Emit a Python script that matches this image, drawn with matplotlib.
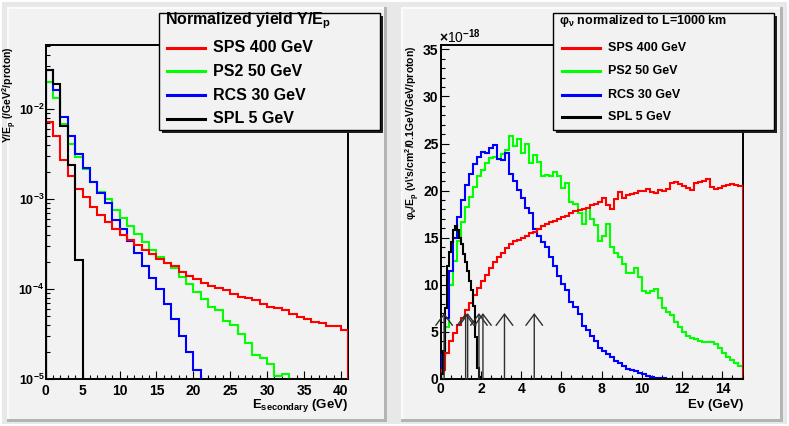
import numpy as np
import matplotlib
matplotlib.use("Agg")
import matplotlib.pyplot as plt
from matplotlib.patches import Rectangle
from matplotlib.lines import Line2D
from matplotlib.ticker import MultipleLocator, LogLocator, NullFormatter

plt.rcParams['font.family'] = ['Liberation Sans', 'DejaVu Sans']
plt.rcParams['font.weight'] = 'bold'
plt.rcParams['mathtext.fontset'] = 'custom'
plt.rcParams['mathtext.rm'] = 'Liberation Sans:bold'
plt.rcParams['mathtext.it'] = 'Liberation Sans:bold'
plt.rcParams['mathtext.bf'] = 'Liberation Sans:bold'
plt.rcParams['mathtext.sf'] = 'Liberation Sans:bold'
plt.rcParams['mathtext.default'] = 'rm'

# ---------------- data: left panel (1 GeV bins) ----------------
yield_edges_sps = np.arange(0, 42, 1.0)
yield_sps = [7.2e-3, 5.0e-3, 2.7e-3, 1.8e-3, 1.3e-3, 1.05e-3, 8.2e-4, 6.6e-4, 5.5e-4, 4.6e-4,
             4.0e-4, 3.5e-4, 3.05e-4, 2.7e-4, 2.44e-4, 2.15e-4, 1.94e-4, 1.78e-4, 1.56e-4, 1.39e-4,
             1.28e-4, 1.17e-4, 1.08e-4, 1.02e-4, 9.8e-5, 8.7e-5, 8.2e-5, 7.9e-5, 7.5e-5, 6.8e-5,
             6.3e-5, 6.1e-5, 5.9e-5, 5.3e-5, 4.9e-5, 4.6e-5, 4.3e-5, 4.2e-5, 3.9e-5, 3.9e-5, 3.5e-5]
yield_edges_ps2 = np.arange(0, 34, 1.0)
yield_ps2 = [0.020, 0.0131, 6.8e-3, 4.1e-3, 2.96e-3, 2.15e-3, 1.55e-3, 1.2e-3, 1.0e-3, 7.6e-4,
             6.2e-4, 5.0e-4, 4.1e-4, 3.3e-4, 2.7e-4, 2.25e-4, 1.94e-4, 1.7e-4, 1.37e-4, 1.15e-4,
             9.3e-5, 7.7e-5, 6.3e-5, 5.9e-5, 4.4e-5, 4.0e-5, 3.2e-5, 2.5e-5, 1.85e-5, 1.7e-5,
             1.47e-5, 1.07e-5, 1.14e-5]
yield_edges_rcs = np.arange(0, 22, 1.0)
yield_rcs = [0.027, 0.0162, 8.1e-3, 5.0e-3, 3.2e-3, 2.2e-3, 1.55e-3, 1.18e-3, 9.0e-4, 5.9e-4,
             4.6e-4, 3.4e-4, 2.5e-4, 1.78e-4, 1.31e-4, 1.0e-4, 6.8e-5, 4.6e-5, 3.0e-5, 2.0e-5, 1.26e-5]
yield_edges_spl = np.arange(0, 6, 1.0)
yield_spl = [0.027, 0.019, 6.5e-3, 2.4e-3, 2.1e-4]

# ---------------- data: right panel (flux, x 1e-18) ----------------
flux_edges = np.round(np.arange(0, 15.01, 0.2), 2)
flux_sps = [1.0, 2.8, 4.0, 4.9, 5.7, 6.5, 7.3, 8.1, 8.9, 9.7,
            10.4, 11.0, 11.8, 12.4, 12.9, 13.4, 13.9, 14.3, 14.6, 14.8,
            15.0, 15.2, 15.5, 15.6, 15.9, 16.2, 16.5, 16.7, 16.8, 17.0,
            17.2, 17.3, 17.6, 17.8, 17.9, 18.1, 18.2, 18.5, 18.6, 18.8,
            19.2, 18.5, 18.1, 19.1, 19.9, 19.2, 19.5, 19.6, 19.8, 20.0,
            20.0, 20.2, 19.9, 19.8, 20.1, 20.0, 20.2, 20.8, 20.9, 20.7,
            20.5, 20.3, 20.1, 20.8, 20.9, 21.0, 21.2, 20.4, 20.2, 20.3,
            20.5, 20.6, 20.7, 20.6, 20.5]
flux_ps2 = [1.5, 5.5, 10.0, 12.5, 14.6, 16.7, 18.3, 19.3, 20.4, 21.5,
            22.2, 22.9, 23.5, 23.6, 23.4, 23.9, 24.3, 25.8, 24.7, 25.5,
            24.0, 25.0, 22.9, 23.8, 23.0, 21.6, 21.7, 21.6, 22.0, 21.6,
            20.3, 20.8, 18.8, 18.6, 17.6, 16.5, 18.2, 17.0, 16.4, 14.6,
            15.2, 16.5, 14.0, 13.4, 13.0, 12.2, 11.3, 11.3, 11.8, 10.8,
            9.3, 9.1, 9.3, 9.6, 8.6, 7.5, 7.1, 6.8, 6.1, 5.5,
            5.0, 4.6, 4.3, 4.2, 4.0, 3.9, 3.9, 3.9, 3.7, 3.3,
            2.8, 2.3, 2.0, 1.7, 1.4]
flux_rcs = [2.5, 6.5, 11.5, 15.0, 17.2, 19.0, 20.6, 21.8, 22.8, 23.6,
            24.1, 24.0, 24.5, 24.8, 23.4, 23.3, 24.0, 21.8, 21.0, 20.1,
            19.2, 18.2, 17.6, 15.9, 15.2, 14.5, 14.0, 13.0, 12.0, 10.9,
            10.1, 9.4, 8.2, 7.6, 6.9, 5.6, 5.2, 4.6, 4.0, 3.3,
            3.0, 2.7, 2.3, 1.9, 1.7, 1.4, 1.1, 0.95, 0.8, 0.6,
            0.5, 0.35, 0.25, 0.15, 0.1, 0.07, 0.05, 0.04, 0.03, 0.03,
            0.02, 0.02, 0.02, 0.01, 0.01, 0.01, 0.01, 0.01, 0.01, 0.01,
            0.01, 0.01, 0.01, 0.01, 0.01]
flux_edges_spl = np.round(np.arange(0, 15.01, 0.1), 2)
flux_spl_peak = [0.5, 3.0, 7.5, 12.0, 13.5, 14.5, 15.8, 16.2, 15.8, 15.0,
                 14.3, 13.3, 12.4, 11.5, 10.4, 9.5, 7.8, 4.5, 1.2, 0.2]
flux_spl = np.concatenate([flux_spl_peak, np.zeros(len(flux_edges_spl) - 1 - len(flux_spl_peak))])

arrow_energies = [0.17, 1.24, 1.34, 1.9, 2.1, 3.17, 4.65]
arrow_height = 7.0

labels = ['SPS 400 GeV', 'PS2 50 GeV', 'RCS 30 GeV', 'SPL 5 GeV']
colors = ['#ff0000', '#00ff00', '#0000ff', '#000000']

# ---------------- figure ----------------
W, H = 789, 426
fig = plt.figure(figsize=(W / 100, H / 100), dpi=100, facecolor='white')

def fx(x):
    return x / W

def fy(y):
    return 1 - y / H

def rect(x0, y0, x1, y1, z, **kw):
    fig.add_artist(Rectangle((fx(x0), fy(y1)), (x1 - x0) / W, (y1 - y0) / H,
                             transform=fig.transFigure, zorder=z, **kw))

# canvas and pads
rect(2, 2, 787, 424, -5, facecolor='#e8e8e8', edgecolor='none')
for (x0, x1) in [(7, 387), (401, 783)]:
    rect(x0, 7, x1, 422, -4, facecolor='#b4b4b4', edgecolor='none')
    rect(x0, 7, x1 - 3, 419, -3, facecolor='#fbfbfb', edgecolor='none')
    rect(x0 + 2, 9, x1 - 3, 419, -2, facecolor='#f2f2f2', edgecolor='none')

ax1 = fig.add_axes([fx(45.7), fy(379), (348.3 - 45.7) / W, (379 - 45) / H])
ax2 = fig.add_axes([fx(440.7), fy(379), (742.5 - 440.7) / W, (379 - 45) / H])

for ax in (ax1, ax2):
    ax.set_facecolor('none')
    for s in ax.spines.values():
        s.set_linewidth(1.4)
        s.set_color('black')
    ax.tick_params(which='both', direction='in', top=False, right=False,
                   width=0.8, labelsize=10, pad=2.5, color='black')
    ax.tick_params(which='major', length=6)
    ax.tick_params(which='minor', length=3.2)

# ---- left panel ----
lw = 1.5
ax1.set_yscale('log')
for vals, edges, c, z in [(yield_ps2, yield_edges_ps2, colors[1], 2),
                          (yield_rcs, yield_edges_rcs, colors[2], 3),
                          (yield_sps, yield_edges_sps, colors[0], 4),
                          (yield_spl, yield_edges_spl, colors[3], 5)]:
    ax1.stairs(vals, edges, baseline=1e-7, color=c, lw=lw, zorder=z)
ax1.set_xlim(0, 41)
ax1.set_ylim(1e-5, 0.0514)
ax1.xaxis.set_major_locator(MultipleLocator(5))
ax1.xaxis.set_minor_locator(MultipleLocator(1))
ax1.yaxis.set_major_locator(LogLocator(base=10, numticks=10))
ax1.yaxis.set_minor_locator(LogLocator(base=10, subs=np.arange(2, 10), numticks=20))
ax1.yaxis.set_minor_formatter(NullFormatter())
ax1.tick_params(axis='y', pad=1.0, labelsize=9)
ax1.tick_params(axis='x', pad=3.5)

# ---- right panel ----
for vals, edges, c, z in [(flux_ps2, flux_edges, colors[1], 2),
                          (flux_rcs, flux_edges, colors[2], 3),
                          (flux_sps, flux_edges, colors[0], 4),
                          (flux_spl, flux_edges_spl, colors[3], 5)]:
    ax2.stairs(vals, edges, baseline=0, color=c, lw=lw, zorder=z)
for e in arrow_energies:
    ax2.annotate('', xy=(e, arrow_height), xytext=(e, 0),
                 arrowprops=dict(arrowstyle='->,head_length=0.8,head_width=0.6',
                                 color='#303030', lw=1.0, shrinkA=0, shrinkB=0),
                 zorder=6)
ax2.set_xlim(0, 15)
ax2.set_ylim(0, 35.46)
ax2.xaxis.set_major_locator(MultipleLocator(2))
ax2.xaxis.set_minor_locator(MultipleLocator(0.5))
ax2.yaxis.set_major_locator(MultipleLocator(5))
ax2.yaxis.set_minor_locator(MultipleLocator(1))
ax2.tick_params(axis='y', pad=1.5)

# ---- axis titles ----
fig.text(fx(348), fy(405), r'E$_{\mathrm{secondary}}$ (GeV)', ha='right', va='center', fontsize=9.5)
fig.text(fx(743), fy(405), 'Eν (GeV)', ha='right', va='center', fontsize=9.5)
fig.text(fx(10), fy(46), r'Y/E$_{\mathrm{p}}$ (/GeV$^{2}$/proton)', rotation=90,
         ha='center', va='top', fontsize=7.5)
fig.text(fx(413), fy(46), r'$\varphi_{\nu}$/E$_{\mathrm{p}}$ ($\nu$\'s/cm$^{2}$/0.1GeV/GeV/proton)',
         rotation=90, ha='center', va='top', fontsize=7.5)
fig.text(fx(439), fy(37), r'$\times$10$^{-18}$', ha='left', va='center', fontsize=10,
         fontweight='normal')

# ---- legends ----
def legend(x0, y0, x1, y1, title, tsize, rows, esize, lx0, lx1, tx):
    rect(x0 + 3, y0 + 3, x1 + 3, y1 + 3, 8, facecolor='#202020', edgecolor='none')
    rect(x0, y0, x1, y1, 9, facecolor='#f2f2f2', edgecolor='black', linewidth=1.0)
    fig.text(fx(x0 + 6), fy(21), title, ha='left', va='center', fontsize=tsize, zorder=10)
    for lab, c, yy in zip(labels, colors, rows):
        fig.add_artist(Line2D([fx(lx0), fx(lx1)], [fy(yy), fy(yy)], color=c, lw=2.2,
                              transform=fig.transFigure, zorder=10))
        fig.text(fx(tx), fy(yy), lab, ha='left', va='center', fontsize=esize, zorder=10)

legend(159, 13, 380, 130, r'Normalized yield Y/E$_{\mathrm{p}}$', 11.5,
       [48, 71, 95, 119], 11.5, 167, 205, 213)
legend(553, 13, 774, 130, r'$\varphi_{\nu}$ normalized to L=1000 km', 9,
       [48, 71, 95, 117], 9, 562, 600, 608)

fig.savefig('out.png', dpi=100, facecolor=fig.get_facecolor())
